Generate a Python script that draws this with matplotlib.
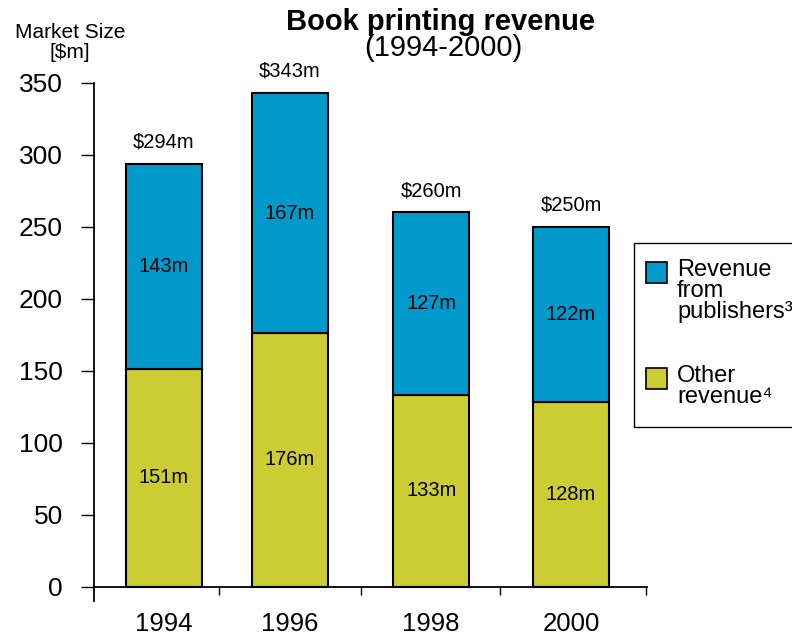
import matplotlib.pyplot as plt
from matplotlib.patches import Rectangle

plt.rcParams['font.family'] = ['Liberation Sans', 'DejaVu Sans']

# 数据
years = ['1994', '1996', '1998', '2000']
other_revenue = [151, 176, 133, 128]
publisher_revenue = [143, 167, 127, 122]
totals = [294, 343, 260, 250]

blue = '#0099CC'
olive = '#CCCC33'

# 柱子位置（略微不等距）
xpos = [0, 0.93, 1.97, 3.0]
sep_ticks = [0.405, 1.45, 2.48, 3.555]
bar_w = 0.56

fig = plt.figure(figsize=(7.92, 6.36), dpi=100)
ax = fig.add_axes([94 / 792, 1 - 601 / 636, (647 - 94) / 792, (601 - 83) / 636])

ax.bar(xpos, other_revenue, bar_w, color=olive, edgecolor='black', linewidth=1.5, zorder=3)
ax.bar(xpos, publisher_revenue, bar_w, bottom=other_revenue, color=blue,
       edgecolor='black', linewidth=1.5, zorder=3)

# 柱内数值与总额
for x, lo, hi, tot in zip(xpos, other_revenue, publisher_revenue, totals):
    ax.text(x, lo / 2, f'{lo}m', ha='center', va='center', fontsize=14.5, zorder=4)
    ax.text(x, lo + hi / 2, f'{hi}m', ha='center', va='center', fontsize=14.5, zorder=4)
    ax.annotate(f'${tot}m', (x, tot), xytext=(0, 9), textcoords='offset points',
                ha='center', va='bottom', fontsize=14.5)

ax.set_xlim(-0.515, 3.56)
ax.set_ylim(-10, 350)
ax.set_yticks(range(0, 351, 50))
ax.set_xticks(xpos)
ax.set_xticklabels(years)
ax.set_xticks(sep_ticks, minor=True)

for side in ['top', 'right']:
    ax.spines[side].set_visible(False)
ax.spines['bottom'].set_position(('data', 0))
ax.spines['bottom'].set_linewidth(1.3)
ax.spines['left'].set_linewidth(1.3)

ax.tick_params(axis='y', direction='out', length=9.5, width=1, pad=13, labelsize=19)
ax.tick_params(axis='x', which='major', length=0, pad=18, labelsize=18.5)
ax.tick_params(axis='x', which='minor', direction='out', length=6, width=1)

# 标题和纵轴单位
fig.text(441 / 792, 1 - 22 / 636, 'Book printing revenue', ha='center', va='center',
         fontsize=21, fontweight='bold')
fig.text(443 / 792, 1 - 48 / 636, '(1994-2000)', ha='center', va='center', fontsize=21)
fig.text(70 / 792, 1 - 32 / 636, 'Market Size', ha='center', va='center', fontsize=15)
fig.text(70 / 792, 1 - 52 / 636, '[$m]', ha='center', va='center', fontsize=15)

# 图例
def px(x, y):
    return x / 792, 1 - y / 636

box_x, box_y = px(634, 427)
fig.patches.append(Rectangle((box_x, box_y), 200 / 792, (427 - 243) / 636,
                             transform=fig.transFigure, facecolor='white',
                             edgecolor='black', linewidth=1))
legend_items = [(blue, 'Revenue\nfrom\npublishers³', 262),
                (olive, 'Other\nrevenue⁴', 368)]
for color, label, top in legend_items:
    rx, ry = px(646, top + 21)
    fig.patches.append(Rectangle((rx, ry), 21 / 792, 21 / 636, transform=fig.transFigure,
                                 facecolor=color, edgecolor='black', linewidth=1.2))
    tx, ty = px(677, top - 3)
    fig.text(tx, ty, label, ha='left', va='top', fontsize=17, linespacing=0.93)

plt.savefig('out.png', dpi=100)
